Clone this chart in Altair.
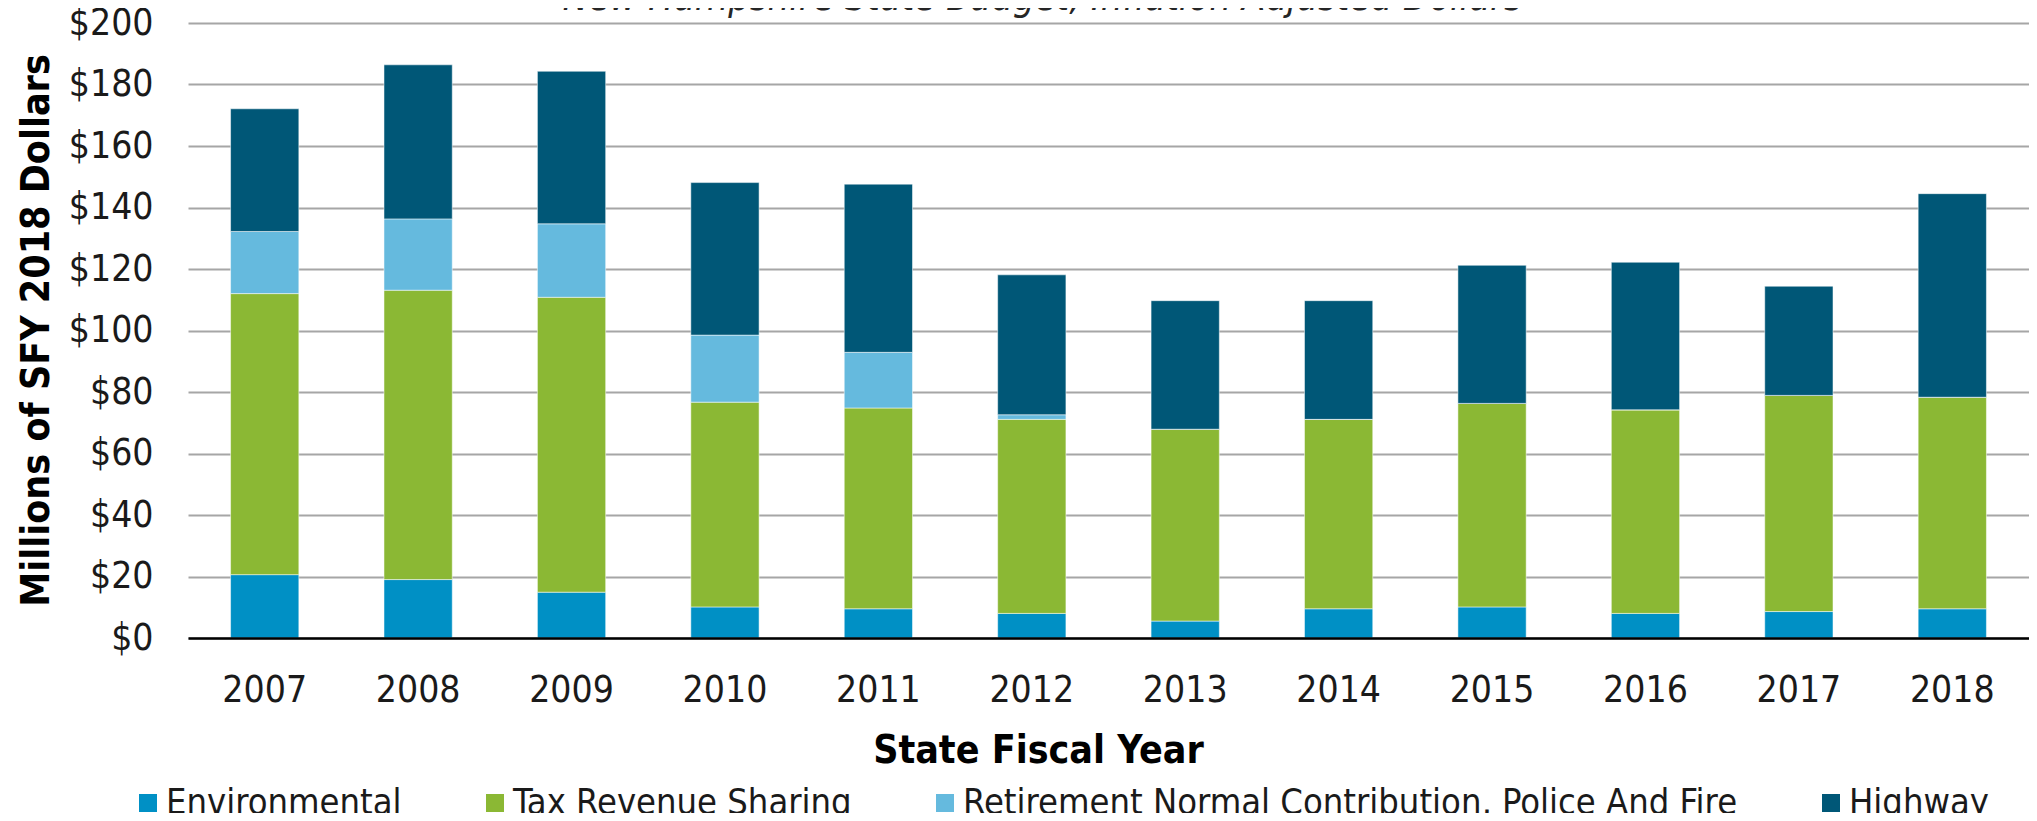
import altair as alt
import pandas as pd

years = ["2007", "2008", "2009", "2010", "2011", "2012",
         "2013", "2014", "2015", "2016", "2017", "2018"]
series = ["Environmental", "Tax Revenue Sharing",
          "Retirement Normal Contribution, Police And Fire", "Highway"]
colors = ["#0090c5", "#8bb834", "#65bade", "#005777"]

environmental = [20.6, 19.0, 14.9, 10.1, 9.5, 8.0, 5.5, 9.5, 10.1, 8.0, 8.6, 9.5]
tax_revenue_sharing = [91.4, 94.1, 95.9, 66.6, 65.3, 63.1, 62.4, 61.6, 66.2, 66.2, 70.3, 68.8]
retirement = [20.2, 23.2, 23.9, 21.8, 18.1, 1.5, 0, 0, 0, 0, 0, 0]
highway = [39.9, 50.1, 49.6, 49.6, 54.7, 45.5, 41.8, 38.6, 44.9, 48.0, 35.5, 66.2]

y_ticks = list(range(0, 201, 20))

rows = []
for i, (name, vals) in enumerate(zip(series, [environmental, tax_revenue_sharing, retirement, highway])):
    for y, v in zip(years, vals):
        rows.append({"Year": y, "Series": name, "Value": v, "Order": i})
df = pd.DataFrame(rows)

FONT = "DejaVu Sans Condensed, Liberation Sans Narrow, DejaVu Sans"

chart = alt.Chart(df).mark_bar(stroke="white", strokeWidth=1, strokeOpacity=0.5).encode(
    x=alt.X("Year:N", sort=years,
            scale=alt.Scale(paddingInner=0.555, paddingOuter=0.2775),
            axis=alt.Axis(title="State Fiscal Year", labelAngle=0, ticks=False, tickSize=0,
                          labelPadding=34, labelFont=FONT, labelFontSize=37, labelColor="#1a1a1a",
                          domainColor="black", domainWidth=2.5, grid=False, zindex=1,
                          titleFont=FONT, titleFontSize=39, titleFontWeight="bold", titleColor="black",
                          titleX=850, titleY=112, titleBaseline="middle", titleAlign="center")),
    y=alt.Y("Value:Q", stack="zero",
            scale=alt.Scale(domain=[0, 200], nice=False),
            axis=alt.Axis(title="Millions of SFY 2018 Dollars", values=y_ticks,
                          labelExpr="'$' + datum.value", ticks=False, tickSize=0, domain=False,
                          labelPadding=35, labelFont=FONT, labelFontSize=37, labelColor="#1a1a1a",
                          grid=True, gridColor="#a6a6a6", gridWidth=2,
                          titleFont=FONT, titleFontSize=39, titleFontWeight="bold", titleColor="black",
                          titleX=-152, titleY=307, titleAngle=270,
                          titleBaseline="middle", titleAlign="center")),
    color=alt.Color("Series:N", sort=series,
                    scale=alt.Scale(domain=series, range=colors),
                    legend=alt.Legend(title=None, orient="none", direction="horizontal",
                                      legendX=-58, legendY=762, symbolType="square",
                                      symbolSize=324, symbolStrokeWidth=0, labelOffset=0,
                                      columnPadding=75, labelFont=FONT, labelFontSize=36,
                                      labelColor="#1a1a1a", padding=0, labelLimit=0)),
    order=alt.Order("Order:Q"),
).properties(
    width=1841,
    height=615,
    autosize=alt.AutoSizeParams(type="none"),
    padding={"left": 180, "top": 15, "right": 0, "bottom": 175},
    title=alt.Title("New Hampshire State Budget, Inflation Adjusted Dollars",
                    font=FONT, fontSize=38, fontStyle="italic", fontWeight="normal",
                    color="#262626", anchor="middle", baseline="alphabetic",
                    dx=-66, dy=44, offset=0),
).configure_view(stroke=None)

chart.save("out.html", embed_options={"renderer": "svg", "actions": False})
